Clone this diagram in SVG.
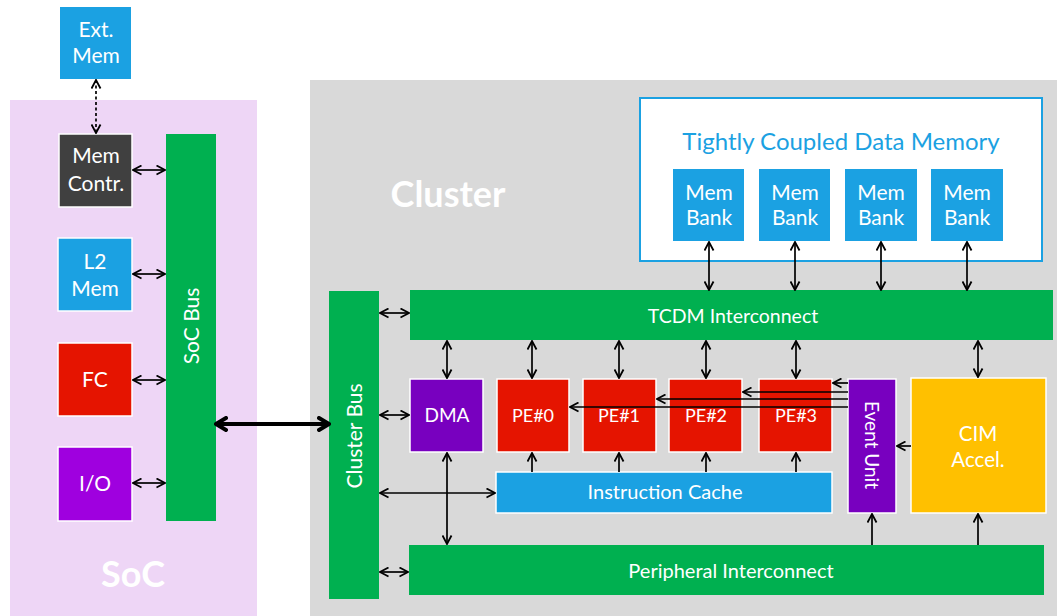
<svg xmlns="http://www.w3.org/2000/svg" width="1057" height="616" viewBox="0 0 1057 616">
<style>
.t{font-family:Lato,"Open Sans","Liberation Sans",sans-serif;fill:#fff;text-anchor:middle}
.b{stroke:#fff;stroke-width:1.5}
.c{fill:none;stroke:#000;stroke-width:1.7}
.blue{fill:#1BA1E2}.red{fill:#E51400}.green{fill:#00B050}.pur{fill:#7800BF}
</style>
<defs>
<marker id="a" viewBox="0 0 11 11" refX="10" refY="5.5" markerWidth="11" markerHeight="11" markerUnits="userSpaceOnUse" orient="auto-start-reverse">
<path d="M1.5,1 L10,5.5 L1.5,10" fill="none" stroke="#000" stroke-width="1.8"/>
</marker>
<marker id="A" viewBox="0 0 14 16" refX="12" refY="8" markerWidth="14" markerHeight="16" markerUnits="userSpaceOnUse" orient="auto-start-reverse">
<path d="M2,2 L12,8 L2,14" fill="none" stroke="#000" stroke-width="4" stroke-linecap="round" stroke-linejoin="round"/>
</marker>
</defs>
<rect width="1057" height="616" fill="#fff"/>
<g id="soc">
<rect x="10" y="100" width="247" height="516" fill="#EED6F6"/>
<text class="t" x="133" y="587" font-size="36" font-weight="bold">SoC</text>
</g>
<g id="cluster">
<rect x="310" y="80" width="747" height="536" fill="#D9D9D9"/>
<text class="t" x="448" y="207" font-size="36" font-weight="bold">Cluster</text>
</g>
<g id="extmem">
<rect x="60" y="7" width="71" height="72" class="blue"/>
<text class="t" x="96" y="37" font-size="21">Ext.</text>
<text class="t" x="96" y="63" font-size="21">Mem</text>
</g>
<g id="memcontr">
<rect x="59" y="134" width="73" height="73" fill="#404040" class="b"/>
<text class="t" x="96" y="163" font-size="21">Mem</text>
<text class="t" x="96" y="191" font-size="21">Contr.</text>
</g>
<g id="l2mem">
<rect x="58" y="238" width="74" height="73" class="blue b"/>
<text class="t" x="95" y="269" font-size="21">L2</text>
<text class="t" x="95" y="296" font-size="21">Mem</text>
</g>
<g id="fc">
<rect x="58" y="343" width="74" height="73" class="red b"/>
<text class="t" x="95" y="387" font-size="21">FC</text>
</g>
<g id="io">
<rect x="58" y="447" width="74" height="74" fill="#9F00DF" class="b"/>
<text class="t" x="95" y="491" font-size="21">I/O</text>
</g>
<g id="socbus">
<rect x="166" y="134" width="50" height="387" class="green"/>
<text class="t" x="0" y="0" font-size="21" transform="translate(199,326) rotate(-90)">SoC Bus</text>
</g>
<g id="tcdm">
<rect x="640" y="98" width="402" height="163" fill="#fff" stroke="#1BA1E2" stroke-width="2"/>
<text class="t" x="841" y="150" font-size="24" style="fill:#1BA1E2">Tightly Coupled Data Memory</text>
</g>
<g id="bank0"><rect x="673" y="169" width="71" height="72" class="blue"/><text class="t" x="709" y="200" font-size="21">Mem</text><text class="t" x="709" y="225" font-size="21">Bank</text></g>
<g id="bank1"><rect x="759" y="169" width="71" height="72" class="blue"/><text class="t" x="795" y="200" font-size="21">Mem</text><text class="t" x="795" y="225" font-size="21">Bank</text></g>
<g id="bank2"><rect x="845" y="169" width="72" height="72" class="blue"/><text class="t" x="881" y="200" font-size="21">Mem</text><text class="t" x="881" y="225" font-size="21">Bank</text></g>
<g id="bank3"><rect x="931" y="169" width="72" height="72" class="blue"/><text class="t" x="967" y="200" font-size="21">Mem</text><text class="t" x="967" y="225" font-size="21">Bank</text></g>
<g id="clusterbus">
<rect x="329" y="291" width="50" height="308" class="green"/>
<text class="t" x="0" y="0" font-size="21" transform="translate(362,436) rotate(-90)">Cluster Bus</text>
</g>
<g id="tcdmic">
<rect x="410" y="290" width="643" height="50" class="green"/>
<text class="t" x="733" y="323" font-size="19.5">TCDM Interconnect</text>
</g>
<g id="periph">
<rect x="409" y="545" width="635" height="50" class="green"/>
<text class="t" x="731" y="578" font-size="20">Peripheral Interconnect</text>
</g>
<g id="dma"><rect x="410" y="379" width="73" height="73" class="pur b"/><text class="t" x="447" y="422" font-size="19">DMA</text></g>
<g id="pe0"><rect x="497" y="379" width="72" height="73" class="red b"/><text class="t" x="533" y="422" font-size="18">PE#0</text></g>
<g id="pe1"><rect x="583" y="379" width="73" height="73" class="red b"/><text class="t" x="619" y="422" font-size="18">PE#1</text></g>
<g id="pe2"><rect x="669" y="379" width="73" height="73" class="red b"/><text class="t" x="706" y="422" font-size="18">PE#2</text></g>
<g id="pe3"><rect x="759" y="379" width="73" height="73" class="red b"/><text class="t" x="796" y="422" font-size="18">PE#3</text></g>
<g id="icache"><rect x="496" y="472" width="336" height="41" class="blue b"/><text class="t" x="665" y="499" font-size="20">Instruction Cache</text></g>
<g id="eventunit">
<rect x="848" y="379" width="48" height="134" class="pur b"/>
<text class="t" x="0" y="0" font-size="19" transform="translate(865,445) rotate(90)">Event Unit</text>
</g>
<g id="cim">
<rect x="911" y="378" width="135" height="135" fill="#FFC000" class="b"/>
<text class="t" x="978" y="441" font-size="20.5">CIM</text>
<text class="t" x="978" y="467" font-size="20.5">Accel.</text>
</g>
<g id="connectors">
<line x1="96" y1="80" x2="96" y2="133" class="c" stroke-dasharray="3,2.5" marker-start="url(#a)" marker-end="url(#a)"/>
<line x1="133" y1="170" x2="165" y2="170" class="c" marker-start="url(#a)" marker-end="url(#a)"/>
<line x1="133" y1="274" x2="165" y2="274" class="c" marker-start="url(#a)" marker-end="url(#a)"/>
<line x1="133" y1="380" x2="165" y2="380" class="c" marker-start="url(#a)" marker-end="url(#a)"/>
<line x1="133" y1="483" x2="165" y2="483" class="c" marker-start="url(#a)" marker-end="url(#a)"/>
<line x1="216" y1="424" x2="329" y2="424" fill="none" stroke="#000" stroke-width="4" marker-start="url(#A)" marker-end="url(#A)"/>
<line x1="709" y1="242" x2="709" y2="290" class="c" marker-start="url(#a)" marker-end="url(#a)"/>
<line x1="795" y1="242" x2="795" y2="290" class="c" marker-start="url(#a)" marker-end="url(#a)"/>
<line x1="881" y1="242" x2="881" y2="290" class="c" marker-start="url(#a)" marker-end="url(#a)"/>
<line x1="967" y1="242" x2="967" y2="290" class="c" marker-start="url(#a)" marker-end="url(#a)"/>
<line x1="380" y1="313" x2="409" y2="313" class="c" marker-start="url(#a)" marker-end="url(#a)"/>
<line x1="380" y1="415" x2="409" y2="415" class="c" marker-start="url(#a)" marker-end="url(#a)"/>
<line x1="380" y1="493" x2="495" y2="493" class="c" marker-start="url(#a)" marker-end="url(#a)"/>
<line x1="380" y1="572" x2="408" y2="572" class="c" marker-start="url(#a)" marker-end="url(#a)"/>
<line x1="447" y1="341" x2="447" y2="378" class="c" marker-start="url(#a)" marker-end="url(#a)"/>
<line x1="447" y1="453" x2="447" y2="544" class="c" marker-start="url(#a)" marker-end="url(#a)"/>
<line x1="532" y1="341" x2="532" y2="378" class="c" marker-start="url(#a)" marker-end="url(#a)"/>
<line x1="619" y1="341" x2="619" y2="378" class="c" marker-start="url(#a)" marker-end="url(#a)"/>
<line x1="706" y1="341" x2="706" y2="378" class="c" marker-start="url(#a)" marker-end="url(#a)"/>
<line x1="796" y1="341" x2="796" y2="378" class="c" marker-start="url(#a)" marker-end="url(#a)"/>
<line x1="978" y1="341" x2="978" y2="377" class="c" marker-start="url(#a)" marker-end="url(#a)"/>
<line x1="532" y1="472" x2="532" y2="453" class="c" marker-end="url(#a)"/>
<line x1="619" y1="472" x2="619" y2="453" class="c" marker-end="url(#a)"/>
<line x1="706" y1="472" x2="706" y2="453" class="c" marker-end="url(#a)"/>
<line x1="796" y1="472" x2="796" y2="453" class="c" marker-end="url(#a)"/>
<line x1="848" y1="383" x2="833" y2="383" class="c" marker-end="url(#a)"/>
<line x1="848" y1="392" x2="743" y2="392" class="c" marker-end="url(#a)"/>
<line x1="848" y1="399" x2="657" y2="399" class="c" marker-end="url(#a)"/>
<line x1="848" y1="407" x2="570" y2="407" class="c" marker-end="url(#a)"/>
<line x1="911" y1="446" x2="897" y2="446" class="c" marker-end="url(#a)"/>
<line x1="872" y1="545" x2="872" y2="514" class="c" marker-end="url(#a)"/>
<line x1="978" y1="545" x2="978" y2="514" class="c" marker-end="url(#a)"/>
</g>
</svg>
